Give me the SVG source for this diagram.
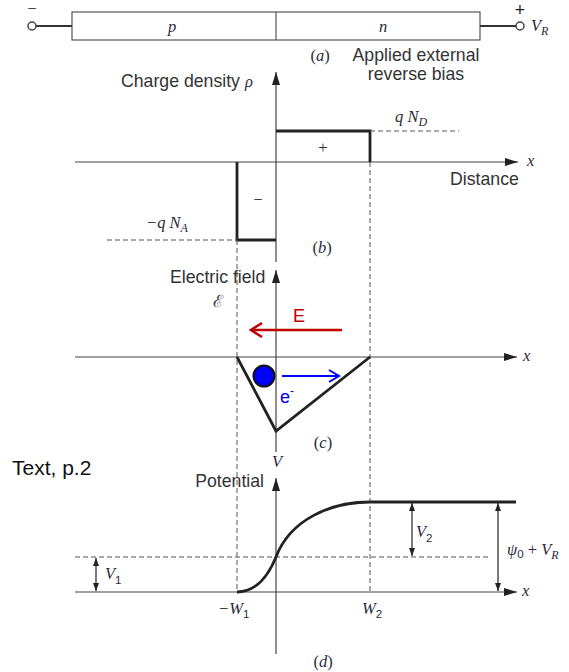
<svg xmlns="http://www.w3.org/2000/svg" width="569" height="672" viewBox="0 0 569 672">
<style>
.thin{stroke:#555;stroke-width:1.2;fill:none}
.thick{stroke:#222;stroke-width:2.8;fill:none;stroke-linejoin:miter}
.dash{stroke:#555;stroke-width:1;stroke-dasharray:5,3;fill:none}
.axis{stroke:#444;stroke-width:1.2;fill:none}
.sans{font-family:"Liberation Sans",Arial,sans-serif;font-size:17.7px;fill:#333}
.math{font-family:"Liberation Serif","Times New Roman",serif;font-style:italic;font-size:16.5px;fill:#2a2a3a}
.rm{font-family:"Liberation Serif","Times New Roman",serif;font-size:16.5px;fill:#2a2a3a}
.sub{font-size:11.5px;font-style:normal;font-family:"Liberation Sans",Arial,sans-serif}
.isub{font-size:12px;font-style:italic;font-family:"Liberation Serif","Times New Roman",serif}
</style>
<defs>
<marker id="ah" markerUnits="userSpaceOnUse" markerWidth="14" markerHeight="9" refX="13" refY="4" orient="auto">
<path d="M0,0 L13,4 L0,8 z" fill="#222"/>
</marker>
<marker id="sa" markerUnits="userSpaceOnUse" markerWidth="9" markerHeight="7" refX="8" refY="3" orient="auto-start-reverse">
<path d="M0,0 L8,3 L0,6 z" fill="#222"/>
</marker>
</defs>
<rect width="569" height="672" fill="#fff"/>

<g id="bar">
<rect x="72" y="12" width="408" height="28" class="thin"/>
<line x1="276" y1="12" x2="276" y2="40" class="thin"/>
<line x1="36" y1="26" x2="72" y2="26" stroke="#333" stroke-width="2"/>
<line x1="480" y1="26" x2="516" y2="26" stroke="#333" stroke-width="2"/>
<circle cx="32" cy="26" r="4" fill="#fff" stroke="#444" stroke-width="1.5"/>
<circle cx="520" cy="26" r="4" fill="#fff" stroke="#444" stroke-width="1.5"/>
<text x="32" y="14" class="rm" text-anchor="middle" font-size="15">−</text>
<text x="520" y="16" class="sans" text-anchor="middle" font-size="15" style="fill:#222">+</text>
<text x="531" y="31" class="math" font-size="17.5">V<tspan class="isub" dy="4">R</tspan></text>
<text x="172" y="32" class="math" text-anchor="middle" font-size="17.5">p</text>
<text x="383" y="32" class="math" text-anchor="middle" font-size="17.5">n</text>
<text x="320" y="61" class="rm" text-anchor="middle">(<tspan font-style="italic">a</tspan>)</text>
<text x="416" y="61" class="sans" text-anchor="middle">Applied external</text>
<text x="416" y="80" class="sans" text-anchor="middle">reverse bias</text>
</g>

<g id="panel-b">
<line x1="276" y1="262" x2="276" y2="72" class="axis" marker-end="url(#ah)"/>
<line x1="75" y1="162" x2="518" y2="162" class="axis" marker-end="url(#ah)"/>
<text x="121" y="87" class="sans">Charge density <tspan class="math" font-size="17.5">ρ</tspan></text>
<polyline points="276,131 370,131 370,162" class="thick"/>
<polyline points="237,162 237,240 276,240" class="thick"/>
<line x1="370" y1="131" x2="459" y2="131" class="dash"/>
<line x1="107" y1="240" x2="237" y2="240" class="dash"/>
<text x="395" y="122" class="math">q N<tspan class="isub" dy="4">D</tspan></text>
<text x="146" y="228" class="math">−q N<tspan class="isub" dy="4">A</tspan></text>
<text x="323" y="153" class="rm" text-anchor="middle">+</text>
<text x="258" y="205" class="rm" text-anchor="middle">−</text>
<text x="527" y="166" class="math">x</text>
<text x="450" y="185" class="sans">Distance</text>
<text x="322" y="253" class="rm" text-anchor="middle">(<tspan font-style="italic">b</tspan>)</text>
</g>

<g id="guides">
<line x1="237" y1="240" x2="237" y2="592" class="dash"/>
<line x1="370" y1="162" x2="370" y2="592" class="dash"/>
</g>

<g id="panel-c">
<line x1="276" y1="452" x2="276" y2="270" class="axis" marker-end="url(#ah)"/>
<line x1="75" y1="357" x2="517" y2="357" class="axis" marker-end="url(#ah)"/>
<text x="170" y="283" class="sans">Electric field</text>
<text x="218" y="307" font-family="DejaVu Serif,serif" font-size="17" fill="#444" text-anchor="middle">ℰ</text>
<text x="523" y="361" class="math">x</text>
<polyline points="237,357 276,431 370,357" class="thick"/>
<g id="field-E">
<text x="293" y="322" font-family="Liberation Sans,Arial,sans-serif" font-size="18" fill="#c00000">E</text>
<line x1="342" y1="330" x2="251" y2="330" stroke="#c00000" stroke-width="2.5"/>
<polyline points="262,323 251,330 262,337" stroke="#c00000" stroke-width="2.5" fill="none"/>
</g>
<g id="electron">
<circle cx="264" cy="376" r="10.5" fill="#0000ff" stroke="#111" stroke-width="2"/>
<line x1="282" y1="376" x2="339" y2="376" stroke="#0000ff" stroke-width="2"/>
<polyline points="329,370 339,376 329,382" stroke="#0000ff" stroke-width="2" fill="none"/>
<text x="280" y="403" font-family="Liberation Sans,Arial,sans-serif" font-size="18" fill="#0000ff">e<tspan dy="-8" font-size="12">-</tspan></text>
</g>
<text x="323" y="448" class="rm" text-anchor="middle">(<tspan font-style="italic">c</tspan>)</text>
</g>

<g id="panel-d">
<text x="12" y="475" font-family="Liberation Sans,Arial,sans-serif" font-size="21" fill="#111">Text, p.2</text>
<line x1="276" y1="654" x2="276" y2="478" class="axis" marker-end="url(#ah)"/>
<line x1="75" y1="592" x2="517" y2="592" class="axis" marker-end="url(#ah)"/>
<text x="277" y="467" class="math" text-anchor="middle">V</text>
<text x="264" y="487" class="sans" text-anchor="end">Potential</text>
<line x1="75" y1="557" x2="488" y2="557" class="dash"/>
<path d="M237,592 C255,592 268,577 276,557 C290,520 330,502 370,502 L516,502" class="thick"/>
<line x1="96" y1="558" x2="96" y2="591" stroke="#222" stroke-width="1.2" marker-start="url(#sa)" marker-end="url(#sa)"/>
<line x1="412" y1="503" x2="412" y2="556" stroke="#222" stroke-width="1.2" marker-start="url(#sa)" marker-end="url(#sa)"/>
<line x1="498" y1="503" x2="498" y2="591" stroke="#222" stroke-width="1.2" marker-start="url(#sa)" marker-end="url(#sa)"/>
<text x="105" y="579" class="math" font-size="17.5">V<tspan class="sub" dy="5" font-size="12.5">1</tspan></text>
<text x="416" y="537" class="math" font-size="17.5">V<tspan class="sub" dy="5" font-size="12.5">2</tspan></text>
<text x="507" y="555" class="math" font-size="16.5">ψ<tspan class="sub" dy="3" font-size="12">0</tspan><tspan dy="-3" font-style="normal"> + </tspan>V<tspan class="isub" dy="4">R</tspan></text>
<text x="522" y="596" class="math">x</text>
<text x="218" y="614" class="math" font-size="17.5">−W<tspan class="sub" dy="4" font-size="12.5">1</tspan></text>
<text x="362" y="614" class="math" font-size="17.5">W<tspan class="sub" dy="4" font-size="12.5">2</tspan></text>
<text x="323" y="667" class="rm" text-anchor="middle">(<tspan font-style="italic">d</tspan>)</text>
</g>
</svg>
